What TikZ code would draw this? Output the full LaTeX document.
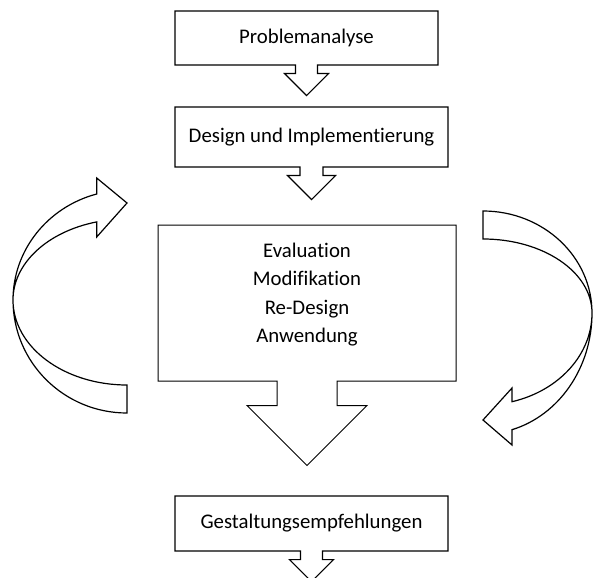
\documentclass[tikz,border=0pt]{standalone}
\usepackage{fontspec}
\setmainfont{Carlito}[Ligatures=NoCommon]
\usepackage{tikz}
\usetikzlibrary{shapes.arrows}
\tikzstyle{flowbox} = [arrow box, draw, line width=1.2pt, text centered, fill=white,
  arrow box north arrow=none, arrow box east arrow=none, arrow box west arrow=none,
  arrow box south arrow=30pt, arrow box shaft width=22pt, arrow box head extend=11pt,
  arrow box tip angle=90]
\tikzstyle{evalbox} = [flowbox, line width=1pt, align=center, text depth=20.5pt,
  minimum width=298pt, minimum height=156pt, arrow box south arrow=84pt,
  arrow box shaft width=60pt, arrow box head extend=30pt]
\tikzstyle{curvearrow} = [draw, line width=1.2pt, line join=miter, fill=white]

\begin{document}
\begin{tikzpicture}[x=1pt, y=-1pt, font=\fontsize{20.8}{28.5}\selectfont]
  \clip (0,0) rectangle (593,577);
  \fill [white] (0,0) rectangle (593,577);

  \node (prob) [flowbox, minimum width=263pt, minimum height=54pt] at (306.5,38) {Problemanalyse};
  \node (design) [flowbox, below of=prob, node distance=99pt, xshift=5pt,
    minimum width=273pt, minimum height=60pt, arrow box south arrow=32pt,
    arrow box shaft width=23pt, arrow box head extend=12.5pt] {Design und Implementierung};
  \node (eval) [evalbox, below of=design, node distance=166pt, xshift=-4.5pt]
    {Evaluation\\Modifikation\\Re-Design\\Anwendung};
  \node (gestalt) [flowbox, below of=eval, node distance=220.5pt, xshift=4.5pt,
    minimum width=273pt, minimum height=55pt] {Gestaltungsempfehlungen};

  % curved arrow on the left, pointing up
  \draw [curvearrow] (127,385) -- (127,413)
    .. controls (64,413) and (13,362.4) .. (13,300)
    .. controls (13,250.5) and (47.3,207.1) .. (96.7,194)
    -- (96.7,178) -- (127,203) -- (96.7,237) -- (96.7,221.9)
    .. controls (47.3,231.6) and (13,263.5) .. (13,300)
    .. controls (13,347) and (64,385) .. (127,385) -- cycle;

  % curved arrow on the right, pointing down
  \draw [curvearrow] (483,239) -- (483,211)
    .. controls (543.2,211) and (592,256.7) .. (592,313)
    .. controls (592,367.5) and (559.2,415.2) .. (512,429.7)
    -- (512,445) -- (483,420) -- (512,388) -- (512,401.7)
    .. controls (559.2,390.7) and (592,354.4) .. (592,313)
    .. controls (592,272.1) and (543.2,239) .. (483,239) -- cycle;
\end{tikzpicture}
\end{document}
